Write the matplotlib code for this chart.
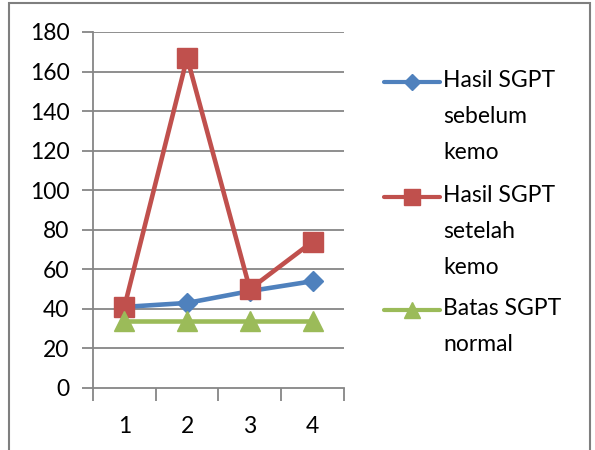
import numpy as np
import matplotlib.pyplot as plt
from matplotlib.lines import Line2D
from matplotlib.patches import Rectangle

plt.rcParams['font.family'] = ['Lato', 'DejaVu Sans']

# data
pasien = [1, 2, 3, 4]
sgpt_sebelum = [41, 43, 49, 54]
sgpt_setelah = [41, 167, 50, 74]
batas_normal = [34, 34, 34, 34]

labels = ["Hasil SGPT\nsebelum\nkemo", "Hasil SGPT\nsetelah\nkemo", "Batas SGPT\nnormal"]
colors = ['#4F81BD', '#C0504D', '#9BBB59']
markers = ['D', 's', '^']
msizes = [10, 14, 14]

fs = 16.5

fig = plt.figure(figsize=(5.95, 4.5), dpi=100)
ax = fig.add_axes([93/595, 62/450, 251/595, 356/450])

grid_c = '#868686'
for y in range(20, 181, 20):
    ax.axhline(y, color=grid_c, lw=1.3, zorder=0)

series = [sgpt_sebelum, sgpt_setelah, batas_normal]
for vals, c, m, ms in zip(series, colors, markers, msizes):
    ax.plot(pasien, vals, color=c, lw=3.3, marker=m, markersize=ms,
            markeredgecolor=c, zorder=3, clip_on=False)

ax.set_xlim(0.5, 4.5)
ax.set_ylim(0, 180)
ax.set_yticks(range(0, 181, 20))
ax.set_xticks(np.arange(0.5, 4.6, 1.0))
ax.set_xticklabels([])
ax.set_xticks(pasien, minor=True)
ax.set_xticklabels([str(p) for p in pasien], minor=True)
ax.tick_params(axis='x', which='major', length=9, width=1.3, color=grid_c, direction='out')
ax.tick_params(axis='x', which='minor', length=0, pad=20, labelsize=fs)
ax.tick_params(axis='y', length=8, width=1.3, color=grid_c, direction='out', labelsize=fs, pad=9)

for s in ['top', 'right']:
    ax.spines[s].set_visible(False)
for s in ['left', 'bottom']:
    ax.spines[s].set_color(grid_c)
    ax.spines[s].set_linewidth(1.3)

# legend drawn by hand so the handle sits on the first line of each label
tops = [82, 197, 310]
for lab, c, m, ms, ty in zip(labels, colors, markers, msizes, tops):
    yf = 1 - ty / 450
    fig.add_artist(Line2D([384/595, 440/595], [yf, yf], transform=fig.transFigure,
                          color=c, lw=3, solid_capstyle='round'))
    fig.add_artist(Line2D([412/595], [yf], transform=fig.transFigure,
                          color=c, marker=m, markersize=ms * 0.85, markeredgecolor=c))
    fig.text(443/595, yf + 12/450, lab, fontsize=fs, va='top', ha='left',
             linespacing=1.87)

# outer chart frame (bottom edge runs off the page)
fig.add_artist(Rectangle((9/595, -0.1), 581/595, 1.1 - 3/450, transform=fig.transFigure,
                         fill=False, edgecolor='#7F7F7F', lw=1.5))

fig.savefig('out.png', dpi=100)
